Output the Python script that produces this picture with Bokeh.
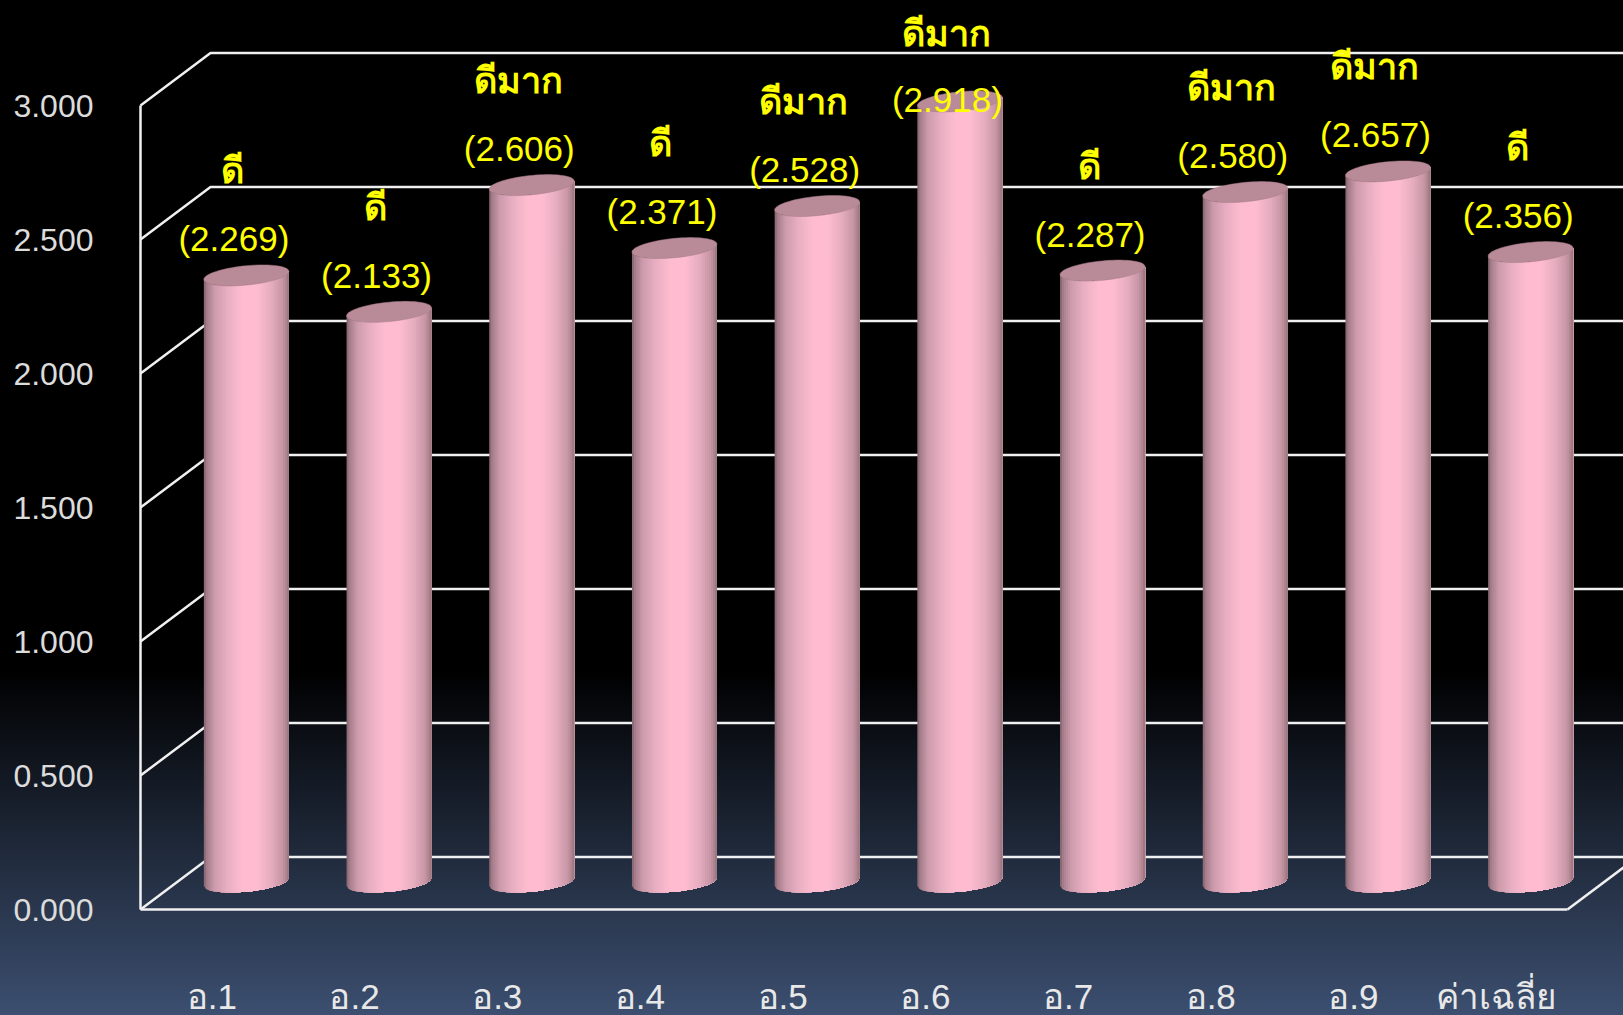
from bokeh.plotting import figure
from bokeh.embed import file_html
from bokeh.resources import INLINE
from bokeh.models import Range1d, FixedTicker, GlobalInlineStyleSheet
from bokeh.core.properties import value as val
import numpy as np

categories = ["อ.1", "อ.2", "อ.3", "อ.4", "อ.5", "อ.6", "อ.7", "อ.8", "อ.9", "ค่าเฉลี่ย"]
scores = [2.269, 2.133, 2.606, 2.371, 2.528, 2.918, 2.287, 2.580, 2.657, 2.356]
ratings = ["ดี", "ดี", "ดีมาก", "ดี", "ดีมาก", "ดีมาก", "ดี", "ดีมาก", "ดีมาก", "ดี"]
y_ticks = [0.0, 0.5, 1.0, 1.5, 2.0, 2.5, 3.0]

W, H = 1623, 1015
LEFT, BASE = 140, 909
PX_X, PX_Y = 142.7, 268.0
n = len(categories)
DX, DY = 70 / PX_X, 52.5 / PX_Y          # depth of the 3-D box in data units
HALF = 42.5 / PX_X                        # cylinder half width
RY, TILT = 9.7 / PX_Y, 4 / PX_Y           # cap ellipse half height and tilt
X_END = (W - LEFT) / PX_X

p = figure(width=W, height=H, output_backend="svg", toolbar_location=None,
           x_range=Range1d(-LEFT / PX_X, X_END), y_range=Range1d(-(H - BASE) / PX_Y, BASE / PX_Y),
           min_border=0, border_fill_alpha=0, background_fill_alpha=0, outline_line_alpha=0)
p.stylesheets = [GlobalInlineStyleSheet(css=
    "html,body{margin:0;padding:0;overflow:hidden;"
    "background:linear-gradient(180deg,#000 0%,#000 66%,#3c4f70 100%);}")]

p.grid.visible = False
ax = p.xaxis[0]
ax.fixed_location = 0
ax.ticker = FixedTicker(ticks=[i + 0.5 for i in range(n)])
ax.major_label_overrides = {i + 0.5: c for i, c in enumerate(categories)}
ax.bounds = (0, n)
ax.major_tick_line_alpha = 0
ax.minor_tick_line_alpha = 0
ax.axis_line_color = "#f0f0f0"
ax.axis_line_width = 2.5
ax.major_label_standoff = 61
ax.major_label_text_color = "#e8e8e8"
ax.major_label_text_font_size = "35px"
ax.major_label_text_font = "Liberation Sans"

ay = p.yaxis[0]
ay.fixed_location = 0
ay.ticker = FixedTicker(ticks=y_ticks)
ay.major_label_overrides = {t: f"{t:.3f}" for t in y_ticks}
ay.bounds = (0, 3)
ay.major_tick_line_alpha = 0
ay.minor_tick_line_alpha = 0
ay.axis_line_color = "#f0f0f0"
ay.axis_line_width = 2.5
ay.major_label_standoff = 41
ay.major_label_text_color = "#dcdcdc"
ay.major_label_text_font_size = "32px"
ay.major_label_text_font = "Liberation Sans"

# box: side wall and back wall grid lines
xs, ys = [], []
for t in y_ticks:
    xs.append([0, DX, X_END])
    ys.append([t, t + DY, t + DY])
xs.append([n, n + DX]); ys.append([0, DY])
p.multi_line(xs, ys, line_color="#f0f0f0", line_width=2.5)

# cylinders
stops_u = [-1.0, -0.93, -0.75, -0.45, -0.1, 0.25, 0.6, 0.85, 0.97, 1.0]
stops_c = [(128, 98, 108), (165, 125, 138), (204, 155, 172), (232, 174, 194), (255, 188, 209),
           (255, 188, 209), (228, 172, 190), (198, 150, 165), (165, 125, 135), (135, 105, 115)]
us = np.linspace(-1, 1, 44)
cols = []
for u in us[:-1]:
    rgb = [np.interp(u + 1 / 43, stops_u, [c[k] for c in stops_c]) for k in range(3)]
    cols.append("#%02x%02x%02x" % tuple(int(round(v)) for v in rgb))

sx, sy, sc = [], [], []
capx, capy = [], []
t_arc = np.linspace(0, 2 * np.pi, 73)
foot = 27.5 / PX_Y
foot_top = 26 / PX_Y
for i, v in enumerate(scores):
    cx = i + 0.5 + DX / 2 - 0.5 / PX_X
    for j in range(len(us) - 1):
        u = np.linspace(us[j], 1, max(2, 44 - j))
        x = cx + HALF * u
        y_low = foot + TILT * u - RY * np.sqrt(np.clip(1 - u ** 2, 0, 1))
        y_up = foot_top + v + TILT * u - RY * np.sqrt(np.clip(1 - u ** 2, 0, 1))
        sx.append(np.concatenate([x, x[::-1]]))
        sy.append(np.concatenate([y_low, y_up[::-1]]))
        sc.append(cols[j])
    uc = np.cos(t_arc)
    capx.append(cx + HALF * uc)
    capy.append(foot_top + v + TILT * uc + RY * np.sin(t_arc))
p.patches(sx, sy, fill_color=sc, line_alpha=0)
p.patches(capx, capy, fill_color="#b98a98", line_color="#a87c8a", line_width=0.5)

# labels
xc = [i + 0.5 + DX / 2 for i in range(n)]
foot_y = [foot + v for v in scores]
val_dy = [35] * n; val_dy[5] = 0
rat_dy = [103] * n; rat_dy[5] = 66
texts = [f"({v:.3f})" for v in scores]
p.text(xc, foot_y, text=texts, x_offset=-13, y_offset=[-d for d in val_dy], text_color="#ffff00",
       text_align="center", text_baseline="middle", text_font=val("Liberation Sans"), text_font_size="35px")
p.text(xc, foot_y, text=ratings, x_offset=-14, y_offset=[-d for d in rat_dy], text_color="#ffff00",
       text_align="center", text_baseline="middle", text_font=val("Liberation Sans"), text_font_size="36px",
       text_font_style="bold")

open("out.html", "w").write(file_html(p, INLINE))
